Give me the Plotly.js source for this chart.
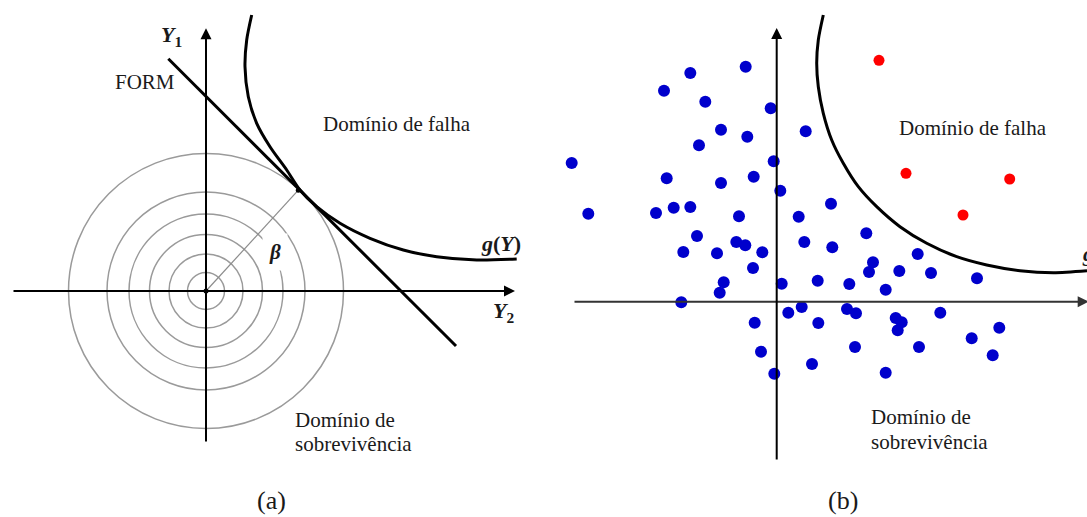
<!DOCTYPE html>
<html>
<head>
<meta charset="utf-8">
<script src="https://cdn.plot.ly/plotly-3.0.1.min.js"></script>
<style>
  html, body { margin: 0; padding: 0; background: #fff; }
  #chart { width: 1087px; height: 517px; }
</style>
</head>
<body>
<div id="chart"></div>
<script>
// (a) FORM: standard normal space, origin at the axes crossing
const circleRadii = [18.5, 37, 56.5, 77, 99, 137.5];
const formLineX = [-37.7, 250];
const formLineY = [232.3, -55];
const limitAX = [45.7, 40.7, 39, 42.3, 50.7, 64, 80.7, 94, 110.7, 134, 164, 197.3, 230.7, 270.7, 310.7];
const limitAY = [276, 251, 224.3, 194.3, 167.7, 144.3, 121, 101, 84.3, 67.7, 52.7, 41, 34.3, 31, 32];
const designPointX = [92.3];
const designPointY = [100.8];

// (b) Monte Carlo samples
const safeX = [-205, -188.4, -112.7, -86.4, -71.4, -31, -6, -55.7, -29.4, -77.7, 29, -3, -110, -55.7, -23, 3.6,
  -120.7, -103, -86.4, -37.7, 22, 54.3, -79.7, -93.4, -59.7, -40.4, -31.4, -14.4, 27.6, 55.6, 89.6, -23.7,
  -53, -57, -95.4, 5, 41, 72.6, 96.3, 92.3, 109, 122.6, 141, 154.3, 200.3, 11.6, 25, 70.3,
  79.3, -22, 41.6, 119, 125, 121, 163.6, 222.6, -15.7, 78.3, 142.3, 195, 216, 35.3, -2.4, 109];
const safeY = [138.7, 88, 211, 228.7, 200, 235, 193.4, 172, 165, 156.4, 170.4, 140.4, 123.4, 118.7, 125, 111,
  88.7, 94, 94.7, 85.4, 85, 98, 65.7, 49.7, 48.4, 59.7, 56.4, 49.4, 59.7, 54.4, 68.4, 33.7,
  19.4, 9, -0.6, 18, 21, 17.7, 39.4, 29.7, 12, 30.7, 47.7, 28.7, 23.4, -11, -5.3, -7.3,
  -11.6, -21, -21.3, -16.3, -20.6, -28.6, -11, -26, -50, -45.3, -45.3, -36.6, -53.6, -62.3, -72, -71];
const failX = [102.3, 129.3, 233, 186.3];
const failY = [241.4, 128.4, 122.7, 86.7];
const limitBX = [46.6, 41.6, 40, 41.6, 46.6, 55, 66.6, 81.6, 100, 123.3, 150, 180, 210, 243.3, 276.6, 310.3];
const limitBY = [286.7, 261.7, 238.4, 215, 188.4, 161.7, 138.4, 115, 95, 75, 58.4, 45, 36.7, 31, 29, 31];

const serif = 'Liberation Serif, Times New Roman, serif';
const ink = '#1a1a1a';

const traces = [
  { x: [0, designPointX[0]], y: [0, designPointY[0]], mode: 'lines', xaxis: 'x', yaxis: 'y',
    line: { color: '#8c8c8c', width: 1.2 } },
  { x: formLineX, y: formLineY, mode: 'lines', xaxis: 'x', yaxis: 'y',
    line: { color: '#000', width: 3 } },
  { x: limitAX, y: limitAY, mode: 'lines', xaxis: 'x', yaxis: 'y',
    line: { color: '#000', width: 3, shape: 'spline', smoothing: 0.8 } },
  { x: [0].concat(designPointX), y: [0].concat(designPointY), mode: 'markers', xaxis: 'x', yaxis: 'y',
    marker: { color: '#000', size: 5 } },
  { x: limitBX, y: limitBY, mode: 'lines', xaxis: 'x2', yaxis: 'y2',
    line: { color: '#000', width: 3, shape: 'spline', smoothing: 0.8 } },
  { x: safeX, y: safeY, mode: 'markers', xaxis: 'x2', yaxis: 'y2',
    marker: { color: '#0000cc', size: 12 } },
  { x: failX, y: failY, mode: 'markers', xaxis: 'x2', yaxis: 'y2',
    marker: { color: '#ff0000', size: 11 } }
];

const shapes = circleRadii.map(r => ({
  type: 'circle', xref: 'x', yref: 'y', layer: 'below',
  x0: -r, x1: r, y0: -r, y1: r,
  line: { color: '#9a9a9a', width: 1.5 }
}));

function axisArrow(xr, yr, x0, y0, x1, y1, color) {
  return {
    xref: xr, yref: yr, axref: xr, ayref: yr,
    x: x1, y: y1, ax: x0, ay: y0, text: '',
    showarrow: true, arrowhead: 2, arrowsize: 1.1, arrowwidth: 2, arrowcolor: color
  };
}

function label(xr, yr, x, y, text, size, anchor) {
  return {
    xref: xr, yref: yr, x: x, y: y, text: text, showarrow: false,
    xanchor: anchor || 'center', yanchor: 'middle', align: 'left',
    font: { family: serif, size: size, color: ink }
  };
}

const annotations = [
  axisArrow('x', 'y', -194, 0, 309, 0, '#000'),
  axisArrow('x', 'y', 0, -152, 0, 262.7, '#000'),
  axisArrow('x2', 'y2', -203.7, 0, 312, 0, '#333'),
  axisArrow('x2', 'y2', 0, -159.3, 0, 273.7, '#000'),

  label('x', 'y', -35, 255, '<b><i>Y</i><sub>1</sub></b>', 22),
  label('x', 'y', -61, 209, 'FORM', 21),
  label('x', 'y', 115, 167, 'Domínio de falha', 21, 'left'),
  label('x', 'y', 295, 48, '<b><i>g</i>(<i>Y</i>)</b>', 22),
  label('x', 'y', 297, -21, '<b><i>Y</i><sub>2</sub></b>', 22),
  Object.assign(label('x', 'y', 69, 39, '<b><i>β</i></b>', 21), { bgcolor: '#fff', borderpad: 6 }),
  label('x', 'y', 87, -129, 'Domínio de', 21, 'left'),
  label('x', 'y', 87, -153, 'sobrevivência', 21, 'left'),
  label('x', 'y', 65, -209, '(a)', 26),

  label('x2', 'y2', 120.3, 173.4, 'Domínio de falha', 21, 'left'),
  label('x2', 'y2', 91.8, -115.3, 'Domínio de', 21, 'left'),
  label('x2', 'y2', 91.8, -140.3, 'sobrevivência', 21, 'left'),
  label('x2', 'y2', 303, 48.4, '<b><i>g</i>(<i>Y</i>)</b>', 22, 'left'),
  label('x2', 'y2', 66.3, -198.3, '(b)', 26)
];

const hidden = { visible: false, showgrid: false, zeroline: false, fixedrange: true };

const layout = {
  width: 1087,
  height: 517,
  margin: { l: 0, r: 0, t: 0, b: 0 },
  paper_bgcolor: '#fff',
  plot_bgcolor: '#fff',
  showlegend: false,
  xaxis: Object.assign({ domain: [0, 540 / 1087], range: [-206, 334] }, hidden),
  yaxis: Object.assign({ domain: [0, 1], range: [-226, 291] }, hidden),
  xaxis2: Object.assign({ domain: [540 / 1087, 1], range: [-236.7, 310.3] }, hidden),
  yaxis2: Object.assign({ domain: [0, 1], range: [-215.3, 301.7], anchor: 'x2' }, hidden),
  shapes: shapes,
  annotations: annotations
};

Plotly.newPlot('chart', traces, layout, { staticPlot: true });
</script>
</body>
</html>
